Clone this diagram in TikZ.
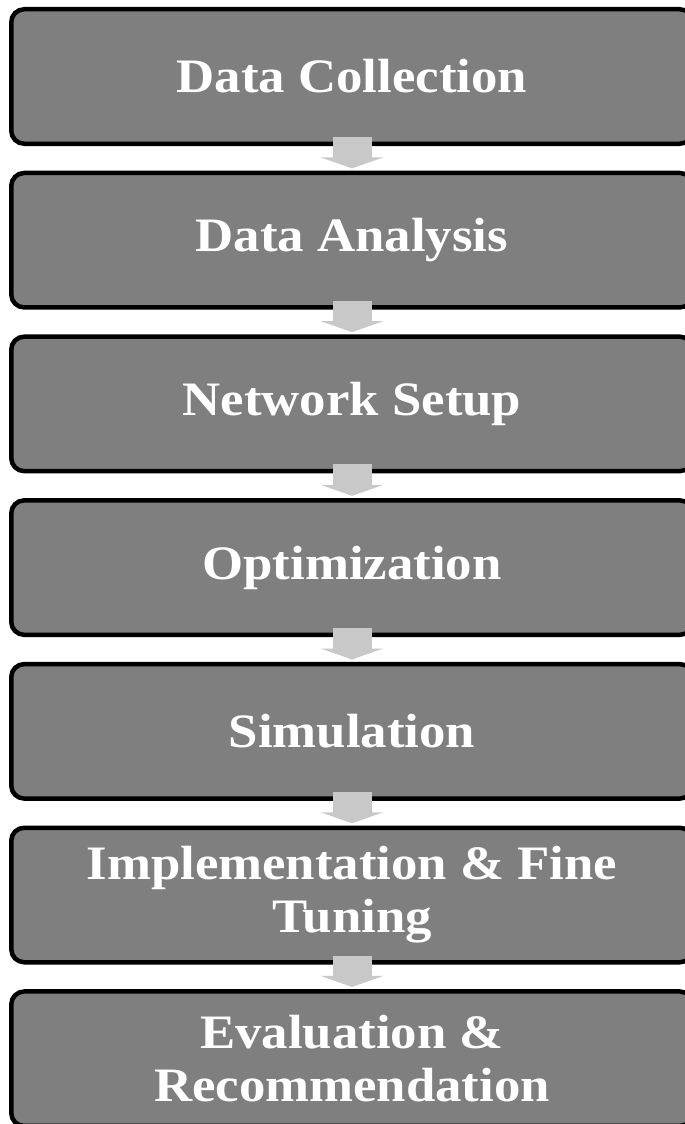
\documentclass[tikz,border=0pt]{standalone}
\usepackage{fontspec}
\setmainfont{Liberation Serif}[FakeStretch=1.1]
\usetikzlibrary{arrows.meta}

\definecolor{boxfill}{RGB}{127,127,127}
\definecolor{flowarrow}{RGB}{200,200,200}

\tikzset{
  stage/.style={
    draw=black, line width=4.5pt, fill=boxfill, rounded corners=13pt,
    minimum width=681.5pt, minimum height=134.5pt, inner sep=0pt,
    text=white, align=center,
    font=\fontsize{48pt}{53pt}\selectfont\bfseries
  },
  flow/.style={
    draw=flowarrow, line width=39pt,
    -{Triangle[width=62pt,length=11pt]}, shorten >=2.25pt
  }
}

\begin{document}
\begin{tikzpicture}
  % page frame
  \fill[white] (0,0) rectangle (685pt,-1124pt);
  \useasboundingbox (0,0) rectangle (685pt,-1124pt);
  \clip (0,0) rectangle (685pt,-1124pt);

  % process stages, top to bottom
  \node[stage] (s1) at (352pt,-76.5pt)  {Data Collection};
  \node[stage] (s2) at (352pt,-240.2pt) {Data Analysis};
  \node[stage] (s3) at (352pt,-403.9pt) {Network Setup};
  \node[stage] (s4) at (352pt,-567.6pt) {Optimization};
  \node[stage] (s5) at (352pt,-731.3pt) {Simulation};
  \node[stage] (s6) at (352pt,-895pt)   {Implementation \& Fine\\Tuning};
  \node[stage] (s7) at (352pt,-1058.7pt){Evaluation \&\\Recommendation};

  % block arrows linking consecutive stages
  \foreach \a/\b in {s1/s2,s2/s3,s3/s4,s4/s5,s5/s6,s6/s7}{
    \draw[flow] ([yshift=9pt]\a.south) -- (\b.north);
  }
\end{tikzpicture}
\end{document}
